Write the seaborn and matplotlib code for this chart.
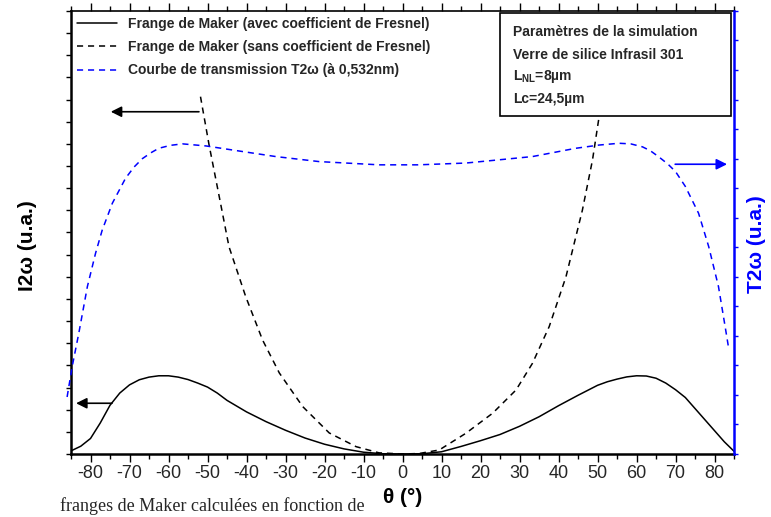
import matplotlib
matplotlib.use('Agg')
import matplotlib.pyplot as plt
import pandas as pd
import seaborn as sns
from matplotlib.patches import Rectangle
from matplotlib.ticker import MultipleLocator, NullFormatter

# Frange de Maker avec coefficient de Fresnel (axe gauche, u.a.)
theta_fresnel = [-85, -82.5, -80, -77.5, -75, -72.5, -70, -67.5, -65, -62.5, -60,
                 -57.5, -55, -52.5, -50, -47.5, -45, -40, -35, -30, -25, -20, -15,
                 -10, -5, 0, 5, 10, 15, 20, 25, 30, 35, 40, 45, 50, 52.5, 55, 57.5,
                 60, 62.5, 65, 67.5, 70, 72.5, 75, 77.5, 80, 82.5, 85]
i2w_fresnel = [0.14, 0.35, 0.70, 1.40, 2.20, 2.75, 3.12, 3.35, 3.47, 3.53, 3.53,
               3.47, 3.36, 3.20, 3.02, 2.75, 2.42, 1.90, 1.46, 1.07, 0.72, 0.44,
               0.23, 0.08, 0.01, 0.0, 0.01, 0.10, 0.34, 0.60, 0.88, 1.25, 1.68,
               2.18, 2.65, 3.10, 3.26, 3.38, 3.48, 3.53, 3.52, 3.42, 3.20, 2.90,
               2.55, 2.05, 1.55, 1.05, 0.55, 0.12]

# Frange de Maker sans coefficient de Fresnel (axe gauche, u.a.)
theta_nofresnel = [-51.8, -49.6, -47.0, -44.5, -40.2, -35.9, -31.6, -25.6, -18.8,
                   -11.9, -6.0, 0.0, 4.2, 9.4, 16.2, 23.1, 29.1, 33.3, 37.6, 41.9,
                   46.1, 48.7, 50.4, 52.0]
i2w_nofresnel = [16.13, 13.95, 11.62, 9.36, 7.10, 5.15, 3.66, 2.14, 0.95, 0.33,
                 0.05, 0.0, 0.02, 0.18, 0.93, 1.84, 2.89, 4.09, 5.75, 8.00, 11.0,
                 13.27, 15.23, 17.0]

# Courbe de transmission T2w (axe droit, u.a.)
theta_trans = [-86.0, -84.7, -83.0, -80.8, -78.7, -77.0, -74.4, -71.0, -68.8,
               -66.7, -64.5, -62.5, -59.5, -56.4, -50.4, -41.0, -32.5, -21.4, -6.0,
               4.0, 16.2, 33.3, 44.4, 50.4, 55.5, 58.5, 61.5, 63.5, 65.6, 68.0,
               70.0, 72.5, 75.9, 78.5, 81.0, 82.7, 83.6]
t2w_trans = [1.93, 2.96, 4.09, 5.67, 6.80, 7.58, 8.49, 9.34, 9.72, 10.0, 10.2,
             10.35, 10.45, 10.5, 10.43, 10.24, 10.07, 9.90, 9.79, 9.79, 9.85,
             10.07, 10.35, 10.46, 10.52, 10.5, 10.40, 10.27, 10.07, 9.82, 9.56,
             9.06, 8.15, 7.02, 5.67, 4.32, 3.59]

labels = ['Frange de Maker (avec coefficient de Fresnel)',
          'Frange de Maker (sans coefficient de Fresnel)',
          'Courbe de transmission T2ω (à 0,532nm)']
param_lines = ['Paramètres de la simulation',
               'Verre de silice Infrasil 301',
               'L$_{NL}$=8µm',
               'Lc=24,5µm']

sns.set_theme(style='ticks')
plt.rcParams['font.family'] = ['Liberation Sans', 'DejaVu Sans']
plt.rcParams['axes.unicode_minus'] = False
plt.rcParams['mathtext.fontset'] = 'custom'
plt.rcParams['mathtext.rm'] = 'Liberation Sans:bold'
plt.rcParams['mathtext.it'] = 'Liberation Sans:bold'
plt.rcParams['mathtext.bf'] = 'Liberation Sans:bold'

blue = '#0000ff'
fig = plt.figure(figsize=(7.71, 5.17), dpi=100)
ax = fig.add_axes([0.0921, 0.1219, 0.86, 0.8569])
ax2 = ax.twinx()

df_f = pd.DataFrame({'theta': theta_fresnel, 'i2w': i2w_fresnel})
df_n = pd.DataFrame({'theta': theta_nofresnel, 'i2w': i2w_nofresnel})
df_t = pd.DataFrame({'theta': theta_trans, 't2w': t2w_trans})

sns.lineplot(data=df_f, x='theta', y='i2w', ax=ax, color='black', lw=1.1,
             estimator=None, label=labels[0], legend=False)
sns.lineplot(data=df_n, x='theta', y='i2w', ax=ax, color='black', lw=1.1,
             estimator=None, label=labels[1], legend=False,
             linestyle=(0, (4, 3.2)))
sns.lineplot(data=df_t, x='theta', y='t2w', ax=ax2, color=blue, lw=1.1,
             estimator=None, label=labels[2], legend=False,
             linestyle=(0, (4, 3.2)))
ax2.lines[0].set_clip_on(False)

ax.set_xlim(-85, 85)
ax.set_ylim(0, 20)
ax2.set_ylim(0, 15)

# ticks
ax.xaxis.set_major_locator(MultipleLocator(10))
ax.xaxis.set_minor_locator(MultipleLocator(5))
ax.yaxis.set_major_locator(MultipleLocator(1))
ax.yaxis.set_major_formatter(NullFormatter())
ax2.yaxis.set_major_locator(MultipleLocator(1))
ax2.yaxis.set_major_formatter(NullFormatter())
ax.tick_params(axis='x', which='major', top=True, direction='out', length=6,
               width=1.0, pad=2, color='black', labelsize=13)
ax.tick_params(axis='x', which='minor', top=True, direction='out', length=3.5,
               width=1.0, color='black')
ax.tick_params(axis='y', which='major', direction='out', length=3.5, width=1.0,
               color='black')
ax2.tick_params(axis='y', which='major', direction='out', length=3, width=1.0,
                color=blue)

# spines
for side in ['left', 'bottom', 'top']:
    ax.spines[side].set_color('black')
ax.spines['left'].set_linewidth(1.8)
ax.spines['bottom'].set_linewidth(1.8)
ax.spines['top'].set_linewidth(1.2)
ax.spines['right'].set_visible(False)
for side in ['left', 'bottom', 'top']:
    ax2.spines[side].set_visible(False)
ax2.spines['right'].set_color(blue)
ax2.spines['right'].set_linewidth(1.8)

# axis labels
ax.set_xlabel('θ (°)', fontsize=15, fontweight='bold', color='black')
ax.xaxis.set_label_coords(0.5, -0.077)
ax.set_ylabel('I2ω (u.a.)', fontsize=15, fontweight='bold', color='black')
ax.yaxis.set_label_coords(-0.052, 0.47)
ax2.set_ylabel('T2ω (u.a.)', fontsize=15, fontweight='bold', color=blue)
ax2.yaxis.set_label_coords(1.0196, 0.474)

# arrows pointing to the matching axis
arrow = dict(arrowstyle='-|>', color='black', lw=1.2, mutation_scale=16,
             shrinkA=0, shrinkB=0)
ax.annotate('', xy=(-74.8, 15.45), xytext=(-52.2, 15.45), arrowprops=arrow)
ax.annotate('', xy=(-83.7, 2.29), xytext=(-74.5, 2.29), arrowprops=arrow)
ax2.annotate('', xy=(83.2, 9.81), xytext=(69.9, 9.81),
             arrowprops=dict(arrow, color=blue))

# legend (no frame)
handles = ax.get_lines()[:2] + ax2.get_lines()[:1]
leg = ax2.legend(handles, labels, loc='upper left', frameon=False,
                 prop={'weight': 'bold', 'size': 10}, handlelength=2.9,
                 handletextpad=0.8, labelspacing=0.68, borderaxespad=0.0,
                 borderpad=0.4)
leg.set_zorder(6)

# parameter box
ax2.add_patch(Rectangle((0.647, 0.763), 0.348, 0.232, transform=ax2.transAxes,
                        facecolor='white', edgecolor='black', lw=1.2, zorder=5))
for txt, yy in zip(param_lines, [0.953, 0.901, 0.851, 0.801]):
    ax2.text(0.667, yy, txt, transform=ax2.transAxes, fontsize=10,
             fontweight='bold', va='center', ha='left', zorder=6)

# caption line of the page, at the bottom edge
fig.text(0.078, 0.004, 'franges de Maker calculées en fonction de',
         family=['Liberation Serif', 'DejaVu Serif'], fontsize=13,
         va='bottom', ha='left')

fig.savefig('out.png', dpi=100)
